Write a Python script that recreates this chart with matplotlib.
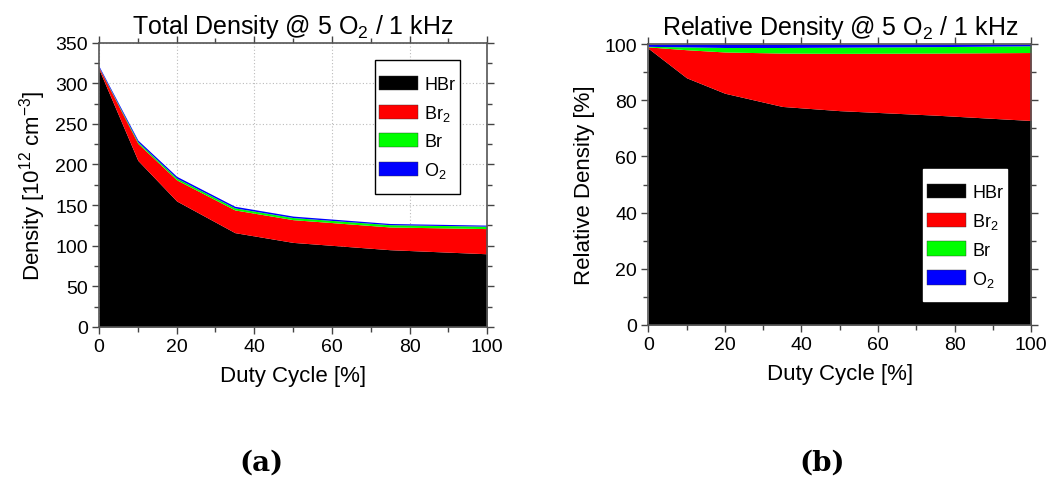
import matplotlib
matplotlib.use("Agg")
import matplotlib.pyplot as plt
from matplotlib.patches import Rectangle
from matplotlib.ticker import MultipleLocator

plt.rcParams["font.family"] = ["Liberation Sans", "DejaVu Sans"]
plt.rcParams["mathtext.fontset"] = "custom"
plt.rcParams["mathtext.rm"] = "Liberation Sans"
plt.rcParams["mathtext.it"] = "Liberation Sans:italic"

# Duty cycle sample points [%]
duty = [0, 10, 20, 35, 50, 75, 100]

# Absolute densities [1e12 cm^-3]
hbr_abs = [317, 205, 155, 116, 104, 95, 90]
br2_abs = [2.0, 21, 26, 28, 28, 28, 31]
br_abs = [0.5, 1.8, 2.2, 2.5, 2.6, 2.8, 3.0]
o2_abs = [1.5, 2.2, 2.2, 2.0, 1.8, 1.5, 1.3]

# Relative densities [%]
hbr_rel = [98.5, 88.0, 82.5, 77.8, 76.3, 74.7, 72.8]
br2_rel = [0.5, 10.0, 14.7, 19.0, 20.4, 22.1, 24.2]
br_rel = [0.2, 1.0, 1.6, 2.0, 2.2, 2.3, 2.4]
o2_rel = [0.8, 1.0, 1.2, 1.2, 1.1, 0.9, 0.6]

species = ["HBr", "Br$_2$", "Br", "O$_2$"]
colors = ["#000000", "#ff0000", "#00ff00", "#0000ff"]

fig = plt.figure(figsize=(10.49, 4.85), dpi=100)
ax1 = fig.add_axes([0.0944, 0.324, 0.370, 0.586])
ax2 = fig.add_axes([0.618, 0.328, 0.365, 0.579])


def style_axes(ax, ymax, ymajor):
    ax.set_xlim(0, 100)
    ax.set_ylim(0, ymax)
    ax.xaxis.set_major_locator(MultipleLocator(20))
    ax.xaxis.set_minor_locator(MultipleLocator(10))
    ax.yaxis.set_major_locator(MultipleLocator(ymajor))
    ax.yaxis.set_minor_locator(MultipleLocator(ymajor / 2))
    ax.tick_params(which="both", direction="out", top=True, right=True,
                   labelsize=14, colors="#444444", labelcolor="black")
    ax.tick_params(which="major", length=5, width=1, pad=3)
    ax.tick_params(which="minor", length=3.5, width=1)
    for sp in ax.spines.values():
        sp.set_color("#555555")
        sp.set_linewidth(1.2)
    ax.set_xlabel("Duty Cycle [%]", fontsize=16, labelpad=7)


def add_legend(ax, box, anchor, edge):
    # box: (x0, y0, x1, y1) of the legend frame in axes fraction
    x0, y0, x1, y1 = box
    ax.add_patch(Rectangle((x0, y0), x1 - x0, y1 - y0, transform=ax.transAxes,
                           facecolor="white", edgecolor=edge, linewidth=1.0,
                           zorder=4, clip_on=False))
    handles, labels = ax.get_legend_handles_labels()
    for h in handles:
        h.set_edgecolor("#333333")
        h.set_linewidth(0.3)
    leg = ax.legend(handles, labels, loc="upper left", bbox_to_anchor=anchor,
                    fontsize=13, handlelength=2.15, handleheight=0.85,
                    labelspacing=0.55, frameon=False, borderpad=0,
                    handletextpad=0.35, borderaxespad=0)
    leg.set_zorder(5)
    for h in handles:
        h.set_linewidth(0)
    return leg


# (a) Total density
ax1.grid(True, color="#bbbbbb", linestyle=(0, (1, 2)), linewidth=0.8)
ax1.set_axisbelow(True)
ax1.stackplot(duty, hbr_abs, br2_abs, br_abs, o2_abs, colors=colors,
              labels=species, linewidth=0, zorder=2)
style_axes(ax1, 350, 50)
ax1.set_ylabel("Density [10$^{12}$ cm$^{-3}$]", fontsize=16, labelpad=5)
ax1.set_title("Total Density @ 5 O$_2$ / 1 kHz", fontsize=18, pad=7)
add_legend(ax1, (0.711, 0.468, 0.930, 0.940), (0.722, 0.884), "black")

# (b) Relative density
ax2.stackplot(duty, hbr_rel, br2_rel, br_rel, o2_rel, colors=colors,
              labels=species, linewidth=0, zorder=2)
style_axes(ax2, 100, 20)
ax2.set_ylabel("Relative Density [%]", fontsize=16, labelpad=7)
ax2.set_title("Relative Density @ 5 O$_2$ / 1 kHz", fontsize=18, pad=7)
add_legend(ax2, (0.718, 0.085, 0.937, 0.555), (0.728, 0.502), "white")

# Sub-figure captions
fig.text(0.249, 0.045, "(a)", fontsize=20, fontweight="bold",
         family="DejaVu Serif", ha="center", va="center")
fig.text(0.784, 0.045, "(b)", fontsize=20, fontweight="bold",
         family="DejaVu Serif", ha="center", va="center")

fig.savefig("out.png", dpi=100)
